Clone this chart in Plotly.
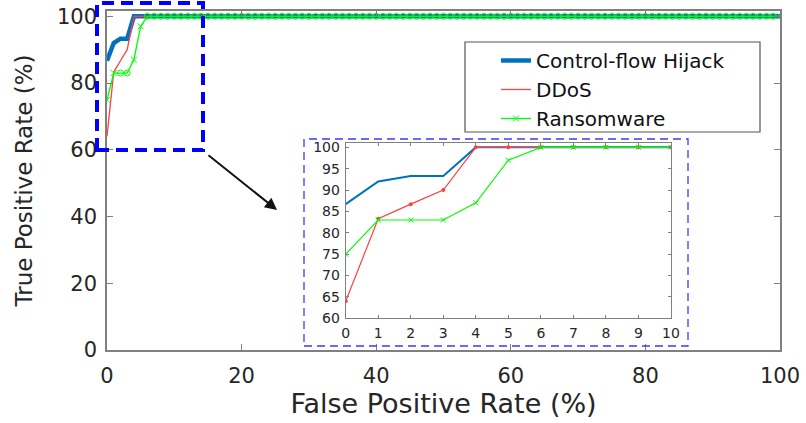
import plotly.graph_objects as go

# ---------------- data ----------------
fpr = [0, 1, 2, 3, 4, 5, 6, 7, 8, 9, 10,
       11, 12, 13, 14, 15, 16, 17, 18, 19, 20,
       21, 22, 23, 24, 25, 26, 27, 28, 29, 30,
       31, 32, 33, 34, 35, 36, 37, 38, 39, 40,
       41, 42, 43, 44, 45, 46, 47, 48, 49, 50,
       51, 52, 53, 54, 55, 56, 57, 58, 59, 60,
       61, 62, 63, 64, 65, 66, 67, 68, 69, 70,
       71, 72, 73, 74, 75, 76, 77, 78, 79, 80,
       81, 82, 83, 84, 85, 86, 87, 88, 89, 90,
       91, 92, 93, 94, 95, 96, 97, 98, 99, 100]

hijack_tpr = [86.7, 92.0, 93.3, 93.3, 100, 100, 100, 100, 100, 100, 100,
              100, 100, 100, 100, 100, 100, 100, 100, 100, 100,
              100, 100, 100, 100, 100, 100, 100, 100, 100, 100,
              100, 100, 100, 100, 100, 100, 100, 100, 100, 100,
              100, 100, 100, 100, 100, 100, 100, 100, 100, 100,
              100, 100, 100, 100, 100, 100, 100, 100, 100, 100,
              100, 100, 100, 100, 100, 100, 100, 100, 100, 100,
              100, 100, 100, 100, 100, 100, 100, 100, 100, 100,
              100, 100, 100, 100, 100, 100, 100, 100, 100, 100,
              100, 100, 100, 100, 100, 100, 100, 100, 100, 100]

ddos_tpr = [64.0, 83.3, 86.7, 90.0, 100, 100, 100, 100, 100, 100, 100,
            100, 100, 100, 100, 100, 100, 100, 100, 100, 100,
            100, 100, 100, 100, 100, 100, 100, 100, 100, 100,
            100, 100, 100, 100, 100, 100, 100, 100, 100, 100,
            100, 100, 100, 100, 100, 100, 100, 100, 100, 100,
            100, 100, 100, 100, 100, 100, 100, 100, 100, 100,
            100, 100, 100, 100, 100, 100, 100, 100, 100, 100,
            100, 100, 100, 100, 100, 100, 100, 100, 100, 100,
            100, 100, 100, 100, 100, 100, 100, 100, 100, 100,
            100, 100, 100, 100, 100, 100, 100, 100, 100, 100]

ransom_tpr = [75.0, 83.0, 83.0, 83.0, 87.0, 97.0, 100, 100, 100, 100, 100,
              100, 100, 100, 100, 100, 100, 100, 100, 100, 100,
              100, 100, 100, 100, 100, 100, 100, 100, 100, 100,
              100, 100, 100, 100, 100, 100, 100, 100, 100, 100,
              100, 100, 100, 100, 100, 100, 100, 100, 100, 100,
              100, 100, 100, 100, 100, 100, 100, 100, 100, 100,
              100, 100, 100, 100, 100, 100, 100, 100, 100, 100,
              100, 100, 100, 100, 100, 100, 100, 100, 100, 100,
              100, 100, 100, 100, 100, 100, 100, 100, 100, 100,
              100, 100, 100, 100, 100, 100, 100, 100, 100, 100]

series_names = ["Control-flow Hijack", "DDoS", "Ransomware"]
main_ticks = [0, 20, 40, 60, 80, 100]
inset_xticks = [0, 1, 2, 3, 4, 5, 6, 7, 8, 9, 10]
inset_yticks = [60, 65, 70, 75, 80, 85, 90, 95, 100]
N_INSET = 11  # inset shows FPR 0..10 %

# ---------------- layout geometry ----------------
W, H = 806, 423
ML, MR, MT, MB = 107, 26, 11, 73
PW, PH = W - ML - MR, H - MT - MB


def px(xp):
    return (xp - ML) / PW


def py(yp):
    return (H - MB - yp) / PH


FONT = "DejaVu Sans"
TXT = "#262626"
AX = "#808080"
BLUE = "#0072BD"
RED = "#ff4040"
GREEN = "#00ff00"

green_symbols = ["x-thin-open" if i in (0, 1, 4, 5, 100) else "circle-open"
                 for i in range(len(fpr))]

fig = go.Figure()

# main traces
fig.add_trace(go.Scatter(x=fpr, y=hijack_tpr, name=series_names[0], mode="lines",
                         line=dict(color=BLUE, width=4.5), xaxis="x", yaxis="y"))
fig.add_trace(go.Scatter(x=fpr, y=ddos_tpr, name=series_names[1], mode="lines",
                         line=dict(color=RED, width=1.3), xaxis="x", yaxis="y"))
fig.add_trace(go.Scatter(x=fpr, y=ransom_tpr, name=series_names[2], mode="lines+markers",
                         line=dict(color=GREEN, width=1.3),
                         marker=dict(symbol=green_symbols, size=6, color=GREEN,
                                     line=dict(color=GREEN, width=1)),
                         xaxis="x", yaxis="y"))

# inset traces
fig.add_trace(go.Scatter(x=fpr[:N_INSET], y=hijack_tpr[:N_INSET], mode="lines",
                         line=dict(color=BLUE, width=2), showlegend=False,
                         xaxis="x2", yaxis="y2"))
fig.add_trace(go.Scatter(x=fpr[:N_INSET], y=ddos_tpr[:N_INSET], mode="lines+markers",
                         line=dict(color=RED, width=1.2),
                         marker=dict(symbol="circle", size=4, color=RED),
                         showlegend=False, xaxis="x2", yaxis="y2"))
fig.add_trace(go.Scatter(x=fpr[:N_INSET], y=ransom_tpr[:N_INSET], mode="lines+markers",
                         line=dict(color=GREEN, width=1.2),
                         marker=dict(symbol="x-thin-open", size=5, color=GREEN,
                                     line=dict(color=GREEN, width=1)),
                         showlegend=False, xaxis="x2", yaxis="y2"))

axis_common = dict(showgrid=False, zeroline=False, showline=True, linecolor=AX,
                   mirror="ticks", ticks="inside", tickcolor=AX, automargin=False)

fig.update_layout(
    width=W, height=H,
    margin=dict(l=ML, r=MR, t=MT, b=MB),
    paper_bgcolor="white", plot_bgcolor="white",
    font=dict(family=FONT, color=TXT),
    xaxis=dict(**axis_common, range=[0, 100], tickvals=main_ticks, ticklen=6,
               linewidth=1.5, tickwidth=1, domain=[0, 1],
               tickfont=dict(size=21, color=TXT), ticklabelstandoff=6,
               title=dict(text="False Positive Rate (%)", font=dict(size=27, color=TXT),
                          standoff=5)),
    yaxis=dict(**axis_common, range=[0, 101.6], tickvals=main_ticks, ticklen=6,
               linewidth=1.5, tickwidth=1, domain=[0, 1],
               tickfont=dict(size=21, color=TXT), ticklabelstandoff=4,
               title=dict(text="True Positive Rate (%)", font=dict(size=23, color=TXT),
                          standoff=18)),
    xaxis2=dict(**axis_common, range=[0, 10], tickvals=inset_xticks, ticklen=3,
                linewidth=1, tickwidth=1, anchor="y2",
                domain=[px(345.7), px(671)],
                tickfont=dict(size=14, color=TXT), ticklabelstandoff=2),
    yaxis2=dict(**axis_common, range=[60, 100.94], tickvals=inset_yticks, ticklen=3,
                linewidth=1, tickwidth=1, anchor="x2",
                domain=[py(318.3), py(143.3)],
                tickfont=dict(size=14, color=TXT), ticklabelstandoff=2),
    legend=dict(x=px(496), y=py(41), xanchor="left", yanchor="top",
                bgcolor="rgba(0,0,0,0)", borderwidth=0,
                font=dict(size=20, color="#111111", family=FONT),
                tracegroupgap=0),
    showlegend=True,
)

# legend frame
fig.add_shape(type="rect", xref="paper", yref="paper",
              x0=px(465), x1=px(760), y0=py(132), y1=py(42),
              line=dict(color="#555555", width=1.2), fillcolor="white", layer="below")

# zoom region rectangle on the main axes
fig.add_shape(type="rect", xref="paper", yref="paper",
              x0=px(97), x1=px(203), y0=py(150), y1=py(3),
              line=dict(color="#0000ff", width=4, dash="12px,7px"))

# dashed frame around the inset
fig.add_shape(type="rect", xref="paper", yref="paper",
              x0=px(304), x1=px(688), y0=py(346), y1=py(139),
              line=dict(color="#3a3aff", width=1.3, dash="8px,5px"))

# arrow pointing to inset
fig.add_annotation(xref="paper", yref="paper", x=px(277), y=py(210),
                   axref="pixel", ayref="pixel", ax=-70, ay=-56,
                   text="", showarrow=True, arrowhead=2, arrowsize=1.2,
                   arrowwidth=2, arrowcolor="#111111")

fig.write_html("out.html",
               config={"displayModeBar": False},
               post_script="document.body.style.margin='0';"
                           "document.body.style.padding='0';"
                           "document.body.style.overflow='hidden';")
